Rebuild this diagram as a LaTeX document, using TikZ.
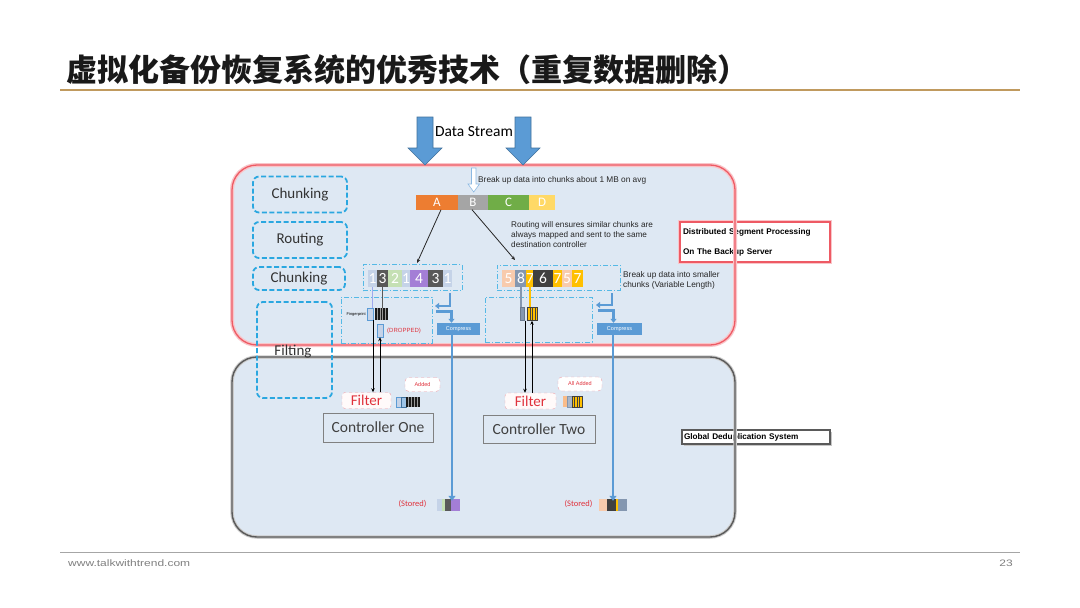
\documentclass[tikz,border=0pt]{standalone}
\usepackage{fontspec}
\setmainfont{Carlito}
\newfontfamily\arialf{Liberation Sans}
\newfontfamily\cjkf{Noto Sans CJK SC}
\usetikzlibrary{arrows.meta,calc}
\definecolor{boxfill}{HTML}{DEE8F3}
\definecolor{redb}{HTML}{EE5A64}
\definecolor{grayb}{HTML}{5A5A5A}
\definecolor{cyanb}{HTML}{2AA7E0}
\definecolor{arrowblue}{HTML}{5B9BD5}
\definecolor{arrowedge}{HTML}{41719C}
\definecolor{cOrange}{HTML}{ED7D31}
\definecolor{cGray}{HTML}{A5A5A5}
\definecolor{cGreen}{HTML}{70AD47}
\definecolor{cYellow}{HTML}{FFD966}
\definecolor{cLB}{HTML}{C5D3E8}
\definecolor{cDark}{HTML}{595959}
\definecolor{cLG}{HTML}{C5E0B4}
\definecolor{cPurple}{HTML}{A47ED6}
\definecolor{cPeach}{HTML}{F8CBAD}
\definecolor{cSlate}{HTML}{8497B0}
\definecolor{cGold}{HTML}{FFC000}
\definecolor{cDark2}{HTML}{404040}
\definecolor{redtxt}{HTML}{E0323C}
\definecolor{pinkb}{HTML}{EFA0A8}
\definecolor{titleline}{HTML}{C09A5E}
\tikzset{
  lab/.style={draw=cyanb, line width=1.8pt, dash pattern=on 5pt off 2.5pt, rounded corners=6pt, inner sep=0pt, font=\fontsize{15}{17}\selectfont, text=black!80},
  grp/.style={draw=cyanb!80, line width=0.9pt, dash pattern=on 5pt off 2pt on 1pt off 2pt, inner sep=0pt},
  cell/.style={inner sep=0pt, minimum height=17pt, text=white, font=\fontsize{15.5}{17}\selectfont},
  barcell/.style={inner sep=0pt, minimum height=15pt, text=white, font=\fontsize{13}{14}\selectfont},
  comp/.style={fill=arrowblue, text=white, font=\arialf\fontsize{5.5}{6}\selectfont, inner sep=0pt, minimum height=12pt},
  smalltxt/.style={font=\arialf\fontsize{8.3}{10}\selectfont, align=left, inner sep=0pt, text=black!85},
  filt/.style={draw=pinkb, dashed, fill=white!92!pink, rounded corners=3pt, text=redtxt, font=\fontsize{15}{16}\selectfont, inner sep=0pt},
  ctrl/.style={draw=gray, line width=0.8pt, fill=boxfill, text=black!75, font=\fontsize{15.5}{17}\selectfont, inner sep=0pt},
  bubble/.style={draw=pinkb, dashed, fill=white, rounded corners=4pt, text=redtxt, font=\arialf\fontsize{5.5}{6}\selectfont, inner sep=0pt},
  blk/.style={inner sep=0pt},
  thinarr/.style={-{Stealth[length=4pt,width=3.5pt]}, line width=0.8pt},
  bigarr/.style={draw=arrowblue, line width=2.6pt, -{Triangle[length=5pt,width=7pt]}},
  tarr/.style={draw=arrowblue, line width=2.2pt, -{Triangle[length=4pt,width=6pt]}},
  stored/.style={text=redtxt, font=\fontsize{8.5}{9}\selectfont, inner sep=0pt},
  bigdown/.style={fill=arrowblue, draw=arrowedge, line width=0.6pt}
}
\begin{document}
\begin{tikzpicture}[x=1pt,y=-1pt]
\useasboundingbox (0,0) rectangle (1080,608);
\fill[white] (0,0) rectangle (1080,608);
% title
\node[anchor=west, font=\cjkf\bfseries\fontsize{31}{34}\selectfont, inner sep=0pt, text=black!90] (title) at (66,70) {虚拟化备份恢复系统的优秀技术（重复数据删除）};
\draw[titleline, line width=1.2pt] (60,90) -- (1020,90);
% footer
\draw[gray!70, line width=0.8pt] (60,552) -- (1020,552);
\node[anchor=west, text=gray, inner sep=0pt] (web) at (68,563) {\scalebox{1}[0.78]{\arialf\fontsize{12}{13}\selectfont www.talkwithtrend.com}};
\node[anchor=east, text=gray, inner sep=0pt] (pg) at (1013,563) {\scalebox{1}[0.78]{\arialf\fontsize{12}{13}\selectfont 23}};
% big boxes fill
\path[fill=boxfill, rounded corners=25pt] (232,165) rectangle (735,345);
\path[fill=boxfill, rounded corners=25pt] (232,357) rectangle (735,537);
% side boxes
\node[draw=redb, line width=1.5pt, fill=white, minimum width=150pt, minimum height=40pt, text width=144pt, align=left, inner sep=0pt,
      font=\arialf\bfseries\fontsize{8.2}{20}\selectfont, preaction={draw=redb!35, line width=4pt}] (dist) at (755,242)
      {Distributed Segment Processing\\On The Backup Server};
\fill[gray!45] (684,432) rectangle (832,446);
\node[draw=grayb, line width=1.5pt, fill=white, minimum width=148pt, minimum height=14pt, text width=144pt, align=left, inner sep=0pt,
      font=\arialf\bfseries\fontsize{8.2}{9}\selectfont] (glob) at (756,437) {Global Deduplication System};
% big box borders
\draw[redb!35, line width=4pt, rounded corners=25pt] (232,165) rectangle (735,345);
\draw[redb, line width=1.3pt, rounded corners=25pt] (232,165) rectangle (735,345);
\draw[gray!40, line width=3.5pt, rounded corners=25pt] (232,357) rectangle (735,537);
\draw[grayb, line width=1.4pt, rounded corners=25pt] (232,357) rectangle (735,537);
% label boxes
\node[lab, minimum width=94pt, minimum height=36pt] (chunkA) at (300,194.5) {Chunking};
\node[lab, minimum width=94pt, minimum height=36pt] (routing) at (300,240) {Routing};
\node[lab, minimum width=92pt, minimum height=23pt] (chunkB) at (299,278.5) {Chunking};
\node[lab, minimum width=75pt, minimum height=96pt] (filting) at (294.5,350) {};
\node[font=\fontsize{15}{17}\selectfont, text=black!80, inner sep=0pt] (filtingtxt) at (293,352) {Filting};
% data stream arrows
\path[bigdown] (417,117) -- (433,117) -- (433,148) -- (442,148) -- (425,165) -- (408,148) -- (417,148) -- cycle;
\path[bigdown] (515,117) -- (531,117) -- (531,148) -- (540,148) -- (523,165) -- (506,148) -- (515,148) -- cycle;
\node[font=\fontsize{15.5}{17}\selectfont, inner sep=0pt] (ds) at (474,132) {Data Stream};
\path[fill=white, draw=arrowblue!70, line width=0.6pt] (471.5,168) -- (476,168) -- (476,184) -- (479.5,184) -- (473.75,192) -- (468,184) -- (471.5,184) -- cycle;
\node[smalltxt, anchor=west] (brk1) at (478,180) {Break up data into chunks about 1 MB on avg};
% chunk bar
\node[barcell, fill=cOrange, minimum width=42pt] (A) at (437,202) {A};
\node[barcell, fill=cGray, minimum width=30pt] (B) at (473,202) {B};
\node[barcell, fill=cGreen, minimum width=41pt] (C) at (508.5,202) {C};
\node[barcell, fill=cYellow, minimum width=26pt] (D) at (542,202) {D};
\node[smalltxt, anchor=north west, font=\arialf\fontsize{8.2}{10}\selectfont] (rtxt) at (511,221) {Routing will ensures similar chunks are\\always mapped and sent to the same\\destination controller};
% chunk groups
\node[grp, minimum width=99pt, minimum height=26pt] (gL) at (412.5,277.5) {};
\node[grp, minimum width=123pt, minimum height=25pt] (gR) at (558.5,277.5) {};
\coordinate (eL) at (417,263);
\coordinate (eR) at (515,260);
\draw[thinarr, black!85] ([xshift=4pt]A.south) -- (eL);
\draw[thinarr, black!85] ([xshift=-1pt]B.south) -- (eR);
\node[cell, fill=cLB, minimum width=9pt] (L1) at (372.5,278.5) {1};
\node[cell, fill=cDark, minimum width=11pt] (L2) at (382.5,278.5) {3};
\node[cell, fill=cLG, minimum width=14pt] (L3) at (395,278.5) {2};
\node[cell, fill=cLB, minimum width=8pt] (L4) at (406,278.5) {1};
\node[cell, fill=cPurple, minimum width=18pt] (L5) at (419,278.5) {4};
\node[cell, fill=cDark, minimum width=15pt] (L6) at (435.5,278.5) {3};
\node[cell, fill=cLB, minimum width=9pt] (L7) at (447.5,278.5) {1};
\node[cell, fill=cPeach, minimum width=13pt] (R1) at (508.5,278.5) {5};
\node[cell, fill=cSlate, minimum width=12pt] (R2) at (521,278.5) {8};
\node[cell, fill=cGold, minimum width=6pt] (R3) at (530,278.5) {7};
\node[cell, fill=cDark2, minimum width=20pt] (R4) at (543,278.5) {6};
\node[cell, fill=cGold, minimum width=9pt] (R5) at (557.5,278.5) {7};
\node[cell, fill=cPeach, minimum width=10pt] (R6) at (567,278.5) {5};
\node[cell, fill=cGold, minimum width=11pt] (R7) at (577.5,278.5) {7};
\node[smalltxt, anchor=west] (brk2) at (623,280) {Break up data into smaller\\chunks (Variable Length)};
% filter regions
\node[grp, minimum width=91pt, minimum height=46pt] (fL) at (386.5,320) {};
\node[grp, minimum width=107pt, minimum height=45pt] (fR) at (538.5,319.5) {};
% fingerprints left
\node[blk, draw=arrowblue, fill=cLB, minimum width=6pt, minimum height=12pt] (fpL) at (370,314) {};
\node[blk, fill=black!90, minimum width=13pt, minimum height=12pt] (bkL) at (381.5,314) {};
\foreach \i in {1,...,4} \draw[gray!80, line width=0.5pt] ($(bkL.north west)+(\i*2.6,0)$) -- ($(bkL.south west)+(\i*2.6,0)$);
\node[blk, draw=arrowblue, fill=cLB, minimum width=6pt, minimum height=13pt] (dpL) at (380,330.5) {};
\node[font=\arialf\fontsize{4}{5}\selectfont, inner sep=0pt, anchor=east] (fptxt) at (366,314) {Fingerprint};
\node[font=\arialf\fontsize{6}{7}\selectfont, text=redtxt, inner sep=0pt, anchor=west] (drop) at (387,331) {(DROPPED)};
\draw[cLB!80!blue, line width=1pt] (L1.south) -- (L1.south |- fpL.north);
\draw[cDark, line width=1.2pt] (L2.south) -- (L2.south |- bkL.north);
% fingerprints right
\node[blk, draw=cSlate!80!black, fill=cSlate, minimum width=4pt, minimum height=13pt] (fpR) at (522,314) {};
\node[blk, draw=cDark2, fill=cGold, minimum width=10pt, minimum height=13pt] (bkR) at (532.5,314) {};
\foreach \i in {1,...,3} \draw[cDark2, line width=0.6pt] ($(bkR.north west)+(\i*2.5,0)$) -- ($(bkR.south west)+(\i*2.5,0)$);
\draw[cSlate, line width=1.2pt] (R2.south) -- (R2.south |- fpR.north);
\draw[cGold, line width=1.2pt] (R3.south) -- (R3.south |- bkR.north);
% compress
\node[comp, minimum width=43pt] (cL) at (458.5,329) {Compress};
\node[comp, minimum width=45pt] (cR) at (619.5,329) {Compress};
\coordinate (tL1) at (450,293);
\coordinate (tL2) at (435,306);
\coordinate (tL3) at (436,311.5);
\coordinate (tR1) at (612,293);
\coordinate (tR2) at (596,305);
\coordinate (tR3) at (598,310.5);
\draw[tarr] (tL1) |- (tL2);
\draw[tarr] (tL3) -| ([xshift=-7pt]cL.north);
\draw[tarr] (tR1) |- (tR2);
\draw[tarr] (tR3) -| ([xshift=-6pt]cR.north);
% filters and controllers
\node[filt, minimum width=49pt, minimum height=16pt] (filtL) at (366.5,400.5) {Filter};
\node[filt, minimum width=51pt, minimum height=16pt] (filtR) at (530.5,401) {Filter};
\node[ctrl, minimum width=110pt, minimum height=29pt] (ctrlL) at (378,427.5) {Controller One};
\node[ctrl, minimum width=112pt, minimum height=28pt] (ctrlR) at (539,429) {Controller Two};
\node[bubble, minimum width=35pt, minimum height=14pt] (bubL) at (422.5,384.5) {Added};
\node[bubble, minimum width=44pt, minimum height=14pt] (bubR) at (580,384) {All Added};
\coordinate (xdL) at (373,0);
\coordinate (xuL) at (380,0);
\coordinate (xdR) at (525,0);
\coordinate (xuR) at (532,0);
\draw[thinarr, black] (fpL.south -| xdL) -- (filtL.north -| xdL);
\draw[thinarr, black] (filtL.north -| xuL) -- (dpL.south -| xuL);
\draw[thinarr, black] (fpR.south -| xdR) -- (filtR.north -| xdR);
\draw[thinarr, black] (filtR.north -| xuR) -- (bkR.south -| xuR);
% added chunks
\node[blk, draw=arrowblue, fill=cLB, minimum width=5pt, minimum height=10pt] (aL1) at (398.5,402) {};
\node[blk, draw=arrowedge, fill=arrowblue!60, minimum width=5pt, minimum height=10pt] (aL2) at (403.5,402) {};
\node[blk, fill=black!90, minimum width=14pt, minimum height=10pt] (aL3) at (413,402) {};
\foreach \i in {1,...,4} \draw[gray!80, line width=0.5pt] ($(aL3.north west)+(\i*2.8,0)$) -- ($(aL3.south west)+(\i*2.8,0)$);
\node[blk, fill=cPeach!80!orange, minimum width=4pt, minimum height=11pt] (aR1) at (565,401.5) {};
\node[blk, fill=cSlate!70, draw=cSlate, minimum width=5pt, minimum height=11pt] (aR2) at (569.5,401.5) {};
\node[blk, draw=cDark2, fill=cGold, minimum width=10pt, minimum height=11pt] (aR3) at (577,401.5) {};
\foreach \i in {1,...,3} \draw[cDark2, line width=0.6pt] ($(aR3.north west)+(\i*2.5,0)$) -- ($(aR3.south west)+(\i*2.5,0)$);
% stored
\node[stored] (stL) at (412.5,504) {(Stored)};
\node[stored] (stR) at (578.5,504) {(Stored)};
\node[blk, fill=cLB, minimum width=5pt, minimum height=12pt] (sL1) at (439.5,505) {};
\node[blk, fill=cLG, minimum width=3pt, minimum height=12pt] (sL2) at (443.5,505) {};
\node[blk, fill=cDark, minimum width=6pt, minimum height=12pt] (sL3) at (448,505) {};
\node[blk, fill=cPurple, minimum width=9pt, minimum height=12pt] (sL4) at (455.5,505) {};
\node[blk, fill=cPeach, minimum width=8pt, minimum height=12pt] (sR1) at (603,505) {};
\node[blk, fill=cDark2, minimum width=9pt, minimum height=12pt] (sR2) at (611.5,505) {};
\node[blk, fill=cGold, minimum width=2pt, minimum height=12pt] (sR3) at (617,505) {};
\node[blk, fill=cSlate, minimum width=9pt, minimum height=12pt] (sR4) at (622.5,505) {};
\coordinate (xL) at (452,0);
\coordinate (xR) at (613,0);
\draw[bigarr] (cL.south -| xL) -- ([yshift=-2pt]sL3.north -| xL);
\draw[bigarr] (cR.south -| xR) -- ([yshift=-2pt]sR2.north -| xR);
\end{tikzpicture}
\end{document}
